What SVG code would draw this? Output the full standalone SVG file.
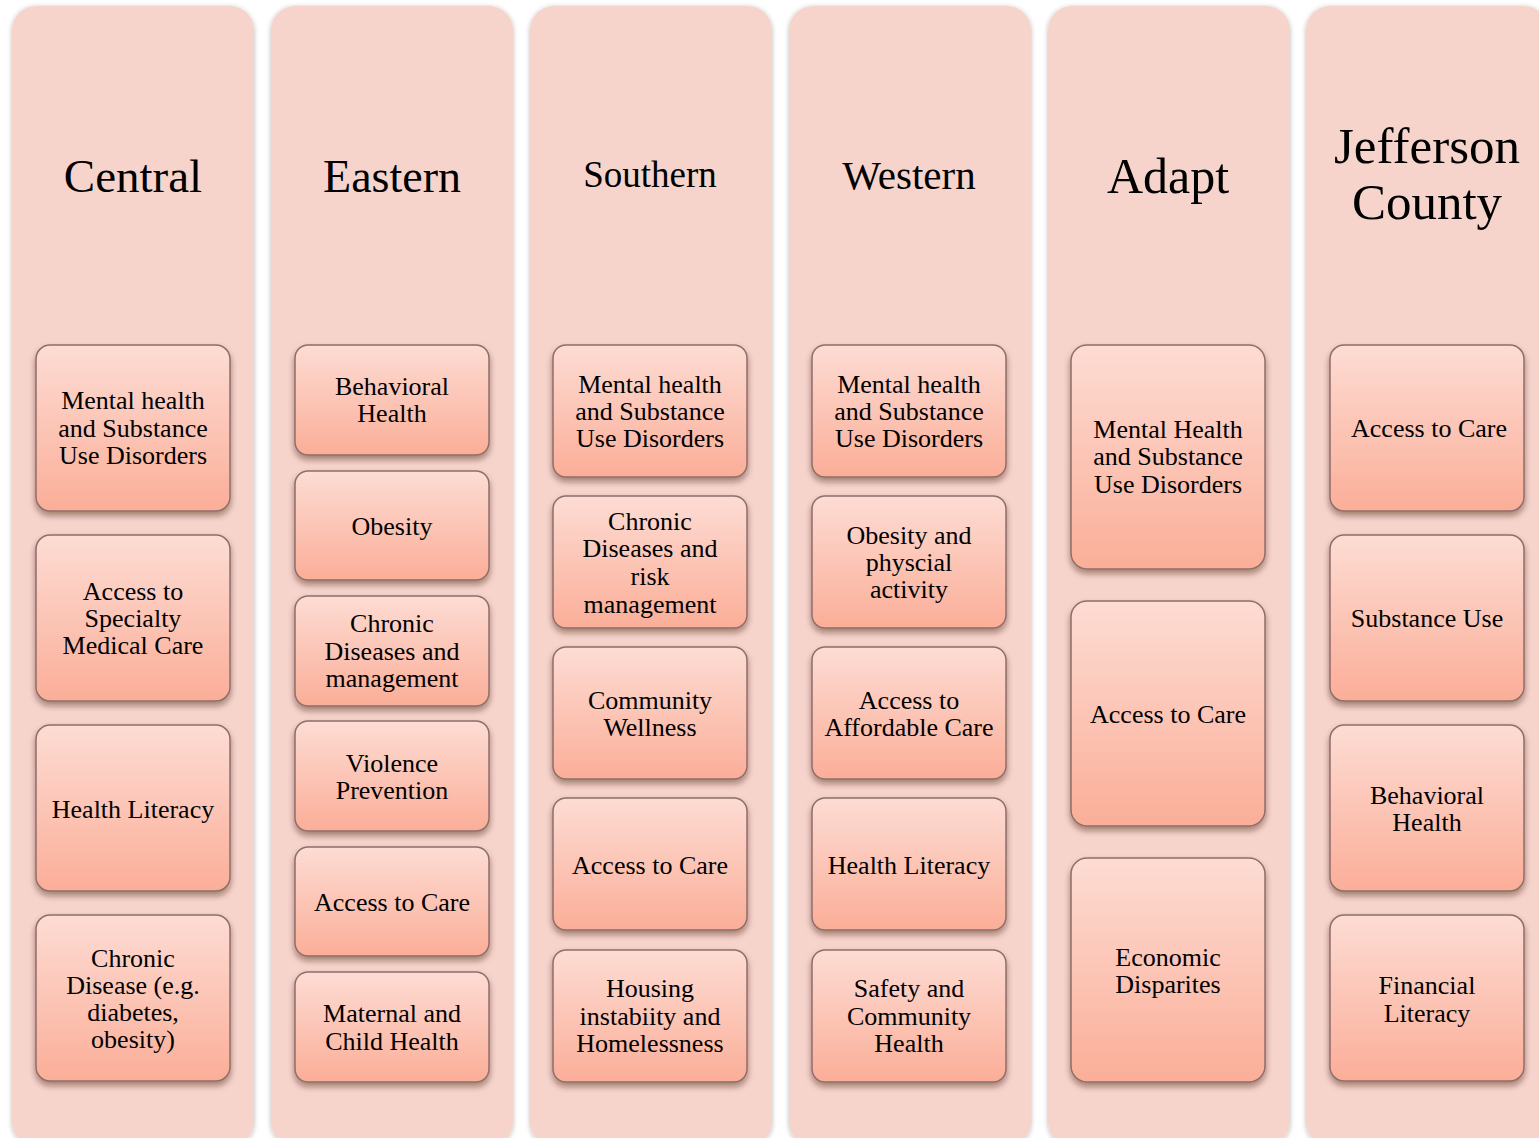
<svg xmlns="http://www.w3.org/2000/svg" width="1539" height="1138" viewBox="0 0 1539 1138">
<defs>
<linearGradient id="bg" x1="0" y1="0" x2="0" y2="1">
<stop offset="0" stop-color="#FDDCD4"/>
<stop offset="1" stop-color="#FBAE98"/>
</linearGradient>
<filter id="cs" x="-10%" y="-5%" width="120%" height="110%">
<feDropShadow dx="0" dy="1" stdDeviation="2.5" flood-color="#000" flood-opacity="0.28"/>
</filter>
<filter id="bs" x="-10%" y="-10%" width="120%" height="130%">
<feDropShadow dx="0" dy="4" stdDeviation="3" flood-color="#3a1a10" flood-opacity="0.45"/>
</filter>
<style>
.col{fill:#F6D4CC;filter:url(#cs)}
.box{fill:url(#bg);stroke:#8E6E69;stroke-width:1.5;filter:url(#bs)}
text{font-family:"Liberation Serif","Times New Roman",serif;fill:#000;text-anchor:middle}
.t{font-size:26px}
</style>
</defs>
<rect width="1539" height="1138" fill="#fff"/>

<g id="central">
<rect class="col" x="12" y="6" width="242" height="1140" rx="24"/>
<text x="133" y="192" style="font-size:47px">Central</text>
<rect class="box" x="36" y="345" width="194" height="166" rx="14"/>
<text class="t" x="133" y="409">Mental health</text><text class="t" x="133" y="437">and Substance</text><text class="t" x="133" y="464">Use Disorders</text>
<rect class="box" x="36" y="535" width="194" height="166" rx="14"/>
<text class="t" x="133" y="600">Access to</text><text class="t" x="133" y="627">Specialty</text><text class="t" x="133" y="654">Medical Care</text>
<rect class="box" x="36" y="725" width="194" height="166" rx="14"/>
<text class="t" x="133" y="818">Health Literacy</text>
<rect class="box" x="36" y="915" width="194" height="166" rx="14"/>
<text class="t" x="133" y="967">Chronic</text><text class="t" x="133" y="994">Disease (e.g.</text><text class="t" x="133" y="1021">diabetes,</text><text class="t" x="133" y="1048">obesity)</text>
</g>

<g id="eastern">
<rect class="col" x="271" y="6" width="242" height="1140" rx="24"/>
<text x="392" y="192" style="font-size:46px">Eastern</text>
<rect class="box" x="295" y="345" width="194" height="110" rx="13"/>
<text class="t" x="392" y="395">Behavioral</text><text class="t" x="392" y="422">Health</text>
<rect class="box" x="295" y="471" width="194" height="109" rx="13"/>
<text class="t" x="392" y="535">Obesity</text>
<rect class="box" x="295" y="596" width="194" height="110" rx="13"/>
<text class="t" x="392" y="632">Chronic</text><text class="t" x="392" y="660">Diseases and</text><text class="t" x="392" y="687">management</text>
<rect class="box" x="295" y="721" width="194" height="110" rx="13"/>
<text class="t" x="392" y="772">Violence</text><text class="t" x="392" y="799">Prevention</text>
<rect class="box" x="295" y="847" width="194" height="109" rx="13"/>
<text class="t" x="392" y="911">Access to Care</text>
<rect class="box" x="295" y="972" width="194" height="110" rx="13"/>
<text class="t" x="392" y="1022">Maternal and</text><text class="t" x="392" y="1050">Child Health</text>
</g>

<g id="southern">
<rect class="col" x="530" y="6" width="242" height="1140" rx="24"/>
<text x="650" y="187" style="font-size:37px">Southern</text>
<rect class="box" x="553" y="345" width="194" height="132" rx="13"/>
<text class="t" x="650" y="393">Mental health</text><text class="t" x="650" y="420">and Substance</text><text class="t" x="650" y="447">Use Disorders</text>
<rect class="box" x="553" y="496" width="194" height="132" rx="13"/>
<text class="t" x="650" y="530">Chronic</text><text class="t" x="650" y="557">Diseases and</text><text class="t" x="650" y="585">risk</text><text class="t" x="650" y="613">management</text>
<rect class="box" x="553" y="647" width="194" height="132" rx="13"/>
<text class="t" x="650" y="709">Community</text><text class="t" x="650" y="736">Wellness</text>
<rect class="box" x="553" y="798" width="194" height="132" rx="13"/>
<text class="t" x="650" y="874">Access to Care</text>
<rect class="box" x="553" y="950" width="194" height="132" rx="13"/>
<text class="t" x="650" y="997">Housing</text><text class="t" x="650" y="1025">instabiity and</text><text class="t" x="650" y="1052">Homelessness</text>
</g>

<g id="western">
<rect class="col" x="789" y="6" width="242" height="1140" rx="24"/>
<text x="909" y="189" style="font-size:41px">Western</text>
<rect class="box" x="812" y="345" width="194" height="132" rx="13"/>
<text class="t" x="909" y="393">Mental health</text><text class="t" x="909" y="420">and Substance</text><text class="t" x="909" y="447">Use Disorders</text>
<rect class="box" x="812" y="496" width="194" height="132" rx="13"/>
<text class="t" x="909" y="544">Obesity and</text><text class="t" x="909" y="571">physcial</text><text class="t" x="909" y="598">activity</text>
<rect class="box" x="812" y="647" width="194" height="132" rx="13"/>
<text class="t" x="909" y="709">Access to</text><text class="t" x="909" y="736">Affordable Care</text>
<rect class="box" x="812" y="798" width="194" height="132" rx="13"/>
<text class="t" x="909" y="874">Health Literacy</text>
<rect class="box" x="812" y="950" width="194" height="132" rx="13"/>
<text class="t" x="909" y="997">Safety and</text><text class="t" x="909" y="1025">Community</text><text class="t" x="909" y="1052">Health</text>
</g>

<g id="adapt">
<rect class="col" x="1048" y="6" width="242" height="1140" rx="24"/>
<text x="1168" y="193" style="font-size:50px">Adapt</text>
<rect class="box" x="1071" y="345" width="194" height="224" rx="16"/>
<text class="t" x="1168" y="438">Mental Health</text><text class="t" x="1168" y="465">and Substance</text><text class="t" x="1168" y="493">Use Disorders</text>
<rect class="box" x="1071" y="601" width="194" height="225" rx="16"/>
<text class="t" x="1168" y="723">Access to Care</text>
<rect class="box" x="1071" y="858" width="194" height="224" rx="16"/>
<text class="t" x="1168" y="966">Economic</text><text class="t" x="1168" y="993">Disparites</text>
</g>

<g id="jefferson">
<rect class="col" x="1306" y="6" width="242" height="1140" rx="24"/>
<text x="1427" y="163" style="font-size:51px">Jefferson</text>
<text x="1427" y="219" style="font-size:51px">County</text>
<rect class="box" x="1330" y="345" width="194" height="166" rx="14"/>
<text class="t" x="1429" y="437">Access to Care</text>
<rect class="box" x="1330" y="535" width="194" height="166" rx="14"/>
<text class="t" x="1427" y="627">Substance Use</text>
<rect class="box" x="1330" y="725" width="194" height="166" rx="14"/>
<text class="t" x="1427" y="804">Behavioral</text><text class="t" x="1427" y="831">Health</text>
<rect class="box" x="1330" y="915" width="194" height="166" rx="14"/>
<text class="t" x="1427" y="994">Financial</text><text class="t" x="1427" y="1022">Literacy</text>
</g>

<g id="connectors"/>
</svg>
